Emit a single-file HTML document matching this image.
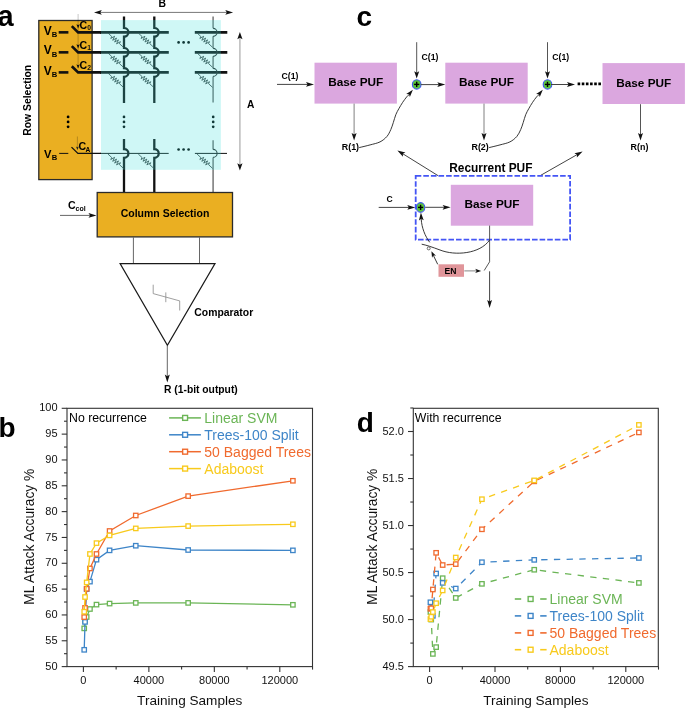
<!DOCTYPE html>
<html><head><meta charset="utf-8"><style>
html,body{margin:0;padding:0;background:#fff;}
svg{display:block;will-change:transform;}
text{font-family:"Liberation Sans", sans-serif;}
</style></head><body>
<svg width="685" height="708" viewBox="0 0 685 708">
<rect width="685" height="708" fill="#fff"/>
<text x="-2.5" y="26.4" font-size="29" font-weight="bold" fill="#000" text-anchor="start" >a</text>
<line x1="99" y1="12.4" x2="228" y2="12.4" stroke="#777" stroke-width="1" />
<polygon points="94,12.4 101.8,10.1 100.24,12.4 101.8,14.7" fill="#111"/>
<polygon points="233.1,12.4 225.3,14.7 226.86,12.4 225.3,10.1" fill="#111"/>
<text x="162.3" y="7.4" font-size="10.4" font-weight="bold" fill="#000" text-anchor="middle" >B</text>
<line x1="239.9" y1="37" x2="239.9" y2="165.5" stroke="#bbb" stroke-width="1.5" />
<polygon points="239.9,31.9 242.5,39.3 239.9,37.82 237.3,39.3" fill="#111"/>
<polygon points="239.9,170.6 237.3,163.2 239.9,164.68 242.5,163.2" fill="#111"/>
<text x="247" y="108" font-size="10.2" font-weight="bold" fill="#000" text-anchor="start" >A</text>
<rect x="38.8" y="20.5" width="53.3" height="159.1" fill="#EAAF22" stroke="#2a2a2a" stroke-width="1.3" />
<text x="31.5" y="100.3" font-size="10.4" font-weight="bold" fill="#000" text-anchor="middle" transform="rotate(-90 31.5 100.3)">Row Selection</text>
<line x1="78.1" y1="14" x2="78.1" y2="68" stroke="#000" stroke-width="1" stroke-opacity="0.22"/>
<line x1="77.4" y1="136.5" x2="77.4" y2="148" stroke="#000" stroke-width="1" stroke-opacity="0.22"/>
<text x="43.8" y="34.6" font-size="12" font-weight="bold" fill="#000" text-anchor="start" >V</text>
<text x="51.8" y="36.8" font-size="7.6" font-weight="bold" fill="#000" text-anchor="start" >B</text>
<line x1="58.7" y1="32.35" x2="68.4" y2="32.35" stroke="#111" stroke-width="2.6" />
<polyline points="71.8,26.15 78.1,32.35 101,32.35" fill="none" stroke="#111" stroke-width="2.6"/>
<polygon points="78.1,28.45 76.4,24.25 78.1,25.09 79.8,24.25" fill="#111"/>
<text x="79.6" y="28.75" font-size="10.6" font-weight="bold" fill="#000" text-anchor="start" >C</text>
<text x="87.2" y="30.25" font-size="6.8" font-weight="bold" fill="#111" text-anchor="start" >0</text>
<text x="43.8" y="53.6" font-size="12" font-weight="bold" fill="#000" text-anchor="start" >V</text>
<text x="51.8" y="56.6" font-size="7.6" font-weight="bold" fill="#000" text-anchor="start" >B</text>
<line x1="58.7" y1="52.35" x2="68.4" y2="52.35" stroke="#111" stroke-width="2.6" />
<polyline points="71.8,46.15 78.1,52.35 101,52.35" fill="none" stroke="#111" stroke-width="2.6"/>
<polygon points="78.1,48.45 76.4,44.25 78.1,45.09 79.8,44.25" fill="#111"/>
<text x="79.6" y="48.75" font-size="10.6" font-weight="bold" fill="#000" text-anchor="start" >C</text>
<text x="87.2" y="50.25" font-size="6.8" font-weight="bold" fill="#111" text-anchor="start" >1</text>
<text x="43.8" y="74.7" font-size="12" font-weight="bold" fill="#000" text-anchor="start" >V</text>
<text x="51.8" y="77.4" font-size="7.6" font-weight="bold" fill="#000" text-anchor="start" >B</text>
<line x1="58.7" y1="72.4" x2="68.4" y2="72.4" stroke="#111" stroke-width="2.6" />
<polyline points="71.8,66.2 78.1,72.4 101,72.4" fill="none" stroke="#111" stroke-width="2.6"/>
<polygon points="78.1,68.5 76.4,64.3 78.1,65.14 79.8,64.3" fill="#111"/>
<text x="79.6" y="68.8" font-size="10.6" font-weight="bold" fill="#000" text-anchor="start" >C</text>
<text x="87.2" y="70.3" font-size="6.8" font-weight="bold" fill="#111" text-anchor="start" >2</text>
<text x="43.9" y="157.5" font-size="11.2" font-weight="bold" fill="#000" text-anchor="start" >V</text>
<text x="51.8" y="160.3" font-size="7.6" font-weight="bold" fill="#000" text-anchor="start" >B</text>
<line x1="59.2" y1="153.4" x2="68.3" y2="153.4" stroke="#111" stroke-width="1" />
<polyline points="71.5,147.1 77.9,153.4 101,153.4" fill="none" stroke="#111" stroke-width="1.3"/>
<polygon points="77.4,150 76,146.5 77.4,147.2 78.8,146.5" fill="#222"/>
<text x="78.6" y="150.1" font-size="10.6" font-weight="bold" fill="#000" text-anchor="start" >C</text>
<text x="85.6" y="151.8" font-size="6.6" font-weight="bold" fill="#000" text-anchor="start" >A</text>
<circle cx="68.1" cy="116.9" r="1.4" fill="#000"/>
<circle cx="68.1" cy="121.9" r="1.4" fill="#000"/>
<circle cx="68.1" cy="126.8" r="1.4" fill="#000"/>
<line x1="100" y1="32.35" x2="168.8" y2="32.35" stroke="#111" stroke-width="2.7" />
<line x1="194.8" y1="32.35" x2="227.3" y2="32.35" stroke="#111" stroke-width="2.7" />
<line x1="100" y1="52.35" x2="168.8" y2="52.35" stroke="#111" stroke-width="2.7" />
<line x1="194.8" y1="52.35" x2="227.3" y2="52.35" stroke="#111" stroke-width="2.7" />
<line x1="100" y1="72.4" x2="168.8" y2="72.4" stroke="#111" stroke-width="2.7" />
<line x1="194.8" y1="72.4" x2="227.3" y2="72.4" stroke="#111" stroke-width="2.7" />
<line x1="100" y1="153.4" x2="168.7" y2="153.4" stroke="#111" stroke-width="1" />
<line x1="194.9" y1="153.4" x2="227" y2="153.4" stroke="#111" stroke-width="1" />
<path d="M124,16.4 L124,27.95 A4.4,4.4 0 0 1 124,36.75 L124,47.95 A4.4,4.4 0 0 1 124,56.75 L124,68 A4.4,4.4 0 0 1 124,76.8 L124,103" fill="none" stroke="#111" stroke-width="2.3"/>
<path d="M124,139.1 L124,149 A4.4,4.4 0 0 1 124,157.8 L124,192.5" fill="none" stroke="#111" stroke-width="2.3"/>
<path d="M154.3,16.4 L154.3,27.95 A4.4,4.4 0 0 1 154.3,36.75 L154.3,47.95 A4.4,4.4 0 0 1 154.3,56.75 L154.3,68 A4.4,4.4 0 0 1 154.3,76.8 L154.3,103" fill="none" stroke="#111" stroke-width="2.3"/>
<path d="M154.3,139.1 L154.3,149 A4.4,4.4 0 0 1 154.3,157.8 L154.3,192.5" fill="none" stroke="#111" stroke-width="2.3"/>
<line x1="213.1" y1="16.4" x2="213.1" y2="28.35" stroke="#767676" stroke-width="1.5" />
<line x1="213.1" y1="36.35" x2="213.1" y2="48.35" stroke="#767676" stroke-width="1.5" />
<line x1="213.1" y1="56.35" x2="213.1" y2="68.4" stroke="#767676" stroke-width="1.5" />
<line x1="213.1" y1="76.4" x2="213.1" y2="102.4" stroke="#767676" stroke-width="1.5" />
<path d="M213.1,28.35 A4,4 0 0 1 213.1,36.35" fill="none" stroke="#2a2a2a" stroke-width="1.1"/>
<path d="M213.1,48.35 A4,4 0 0 1 213.1,56.35" fill="none" stroke="#2a2a2a" stroke-width="1.1"/>
<path d="M213.1,68.4 A4,4 0 0 1 213.1,76.4" fill="none" stroke="#2a2a2a" stroke-width="1.1"/>
<line x1="213.1" y1="140.3" x2="213.1" y2="149.4" stroke="#767676" stroke-width="1.5" />
<line x1="213.1" y1="157.4" x2="213.1" y2="192.5" stroke="#767676" stroke-width="1.5" />
<path d="M213.1,149.4 A4,4 0 0 1 213.1,157.4" fill="none" stroke="#2a2a2a" stroke-width="1.1"/>
<polyline points="108,33.05 111.72,36.48 110.78,38.47 114.6,36.28 112.72,40.26 116.53,38.07 114.66,42.05 118.47,39.85 116.59,43.83 120.41,41.64 119.47,43.63 123.5,47.35" fill="none" stroke="#303838" stroke-width="0.85"/>
<polyline points="138.3,33.05 142.02,36.48 141.08,38.47 144.9,36.28 143.02,40.26 146.83,38.07 144.96,42.05 148.77,39.85 146.89,43.83 150.71,41.64 149.77,43.63 153.8,47.35" fill="none" stroke="#303838" stroke-width="0.85"/>
<polyline points="197.1,33.05 200.82,36.48 199.88,38.47 203.7,36.28 201.82,40.26 205.63,38.07 203.76,42.05 207.57,39.85 205.69,43.83 209.51,41.64 208.57,43.63 212.6,47.35" fill="none" stroke="#303838" stroke-width="0.85"/>
<polyline points="108,53.05 111.72,56.48 110.78,58.47 114.6,56.28 112.72,60.26 116.53,58.07 114.66,62.05 118.47,59.85 116.59,63.83 120.41,61.64 119.47,63.63 123.5,67.35" fill="none" stroke="#303838" stroke-width="0.85"/>
<polyline points="138.3,53.05 142.02,56.48 141.08,58.47 144.9,56.28 143.02,60.26 146.83,58.07 144.96,62.05 148.77,59.85 146.89,63.83 150.71,61.64 149.77,63.63 153.8,67.35" fill="none" stroke="#303838" stroke-width="0.85"/>
<polyline points="197.1,53.05 200.82,56.48 199.88,58.47 203.7,56.28 201.82,60.26 205.63,58.07 203.76,62.05 207.57,59.85 205.69,63.83 209.51,61.64 208.57,63.63 212.6,67.35" fill="none" stroke="#303838" stroke-width="0.85"/>
<polyline points="108,73.1 111.72,76.53 110.78,78.52 114.6,76.33 112.72,80.31 116.53,78.12 114.66,82.1 118.47,79.9 116.59,83.88 120.41,81.69 119.47,83.68 123.5,87.4" fill="none" stroke="#303838" stroke-width="0.85"/>
<polyline points="138.3,73.1 142.02,76.53 141.08,78.52 144.9,76.33 143.02,80.31 146.83,78.12 144.96,82.1 148.77,79.9 146.89,83.88 150.71,81.69 149.77,83.68 153.8,87.4" fill="none" stroke="#303838" stroke-width="0.85"/>
<polyline points="197.1,73.1 200.82,76.53 199.88,78.52 203.7,76.33 201.82,80.31 205.63,78.12 203.76,82.1 207.57,79.9 205.69,83.88 209.51,81.69 208.57,83.68 212.6,87.4" fill="none" stroke="#303838" stroke-width="0.85"/>
<polyline points="108,154.1 111.72,157.53 110.78,159.52 114.6,157.33 112.72,161.31 116.53,159.12 114.66,163.1 118.47,160.9 116.59,164.88 120.41,162.69 119.47,164.68 123.5,168.4" fill="none" stroke="#303838" stroke-width="0.85"/>
<polyline points="138.3,154.1 142.02,157.53 141.08,159.52 144.9,157.33 143.02,161.31 146.83,159.12 144.96,163.1 148.77,160.9 146.89,164.88 150.71,162.69 149.77,164.68 153.8,168.4" fill="none" stroke="#303838" stroke-width="0.85"/>
<polyline points="197.1,154.1 200.82,157.53 199.88,159.52 203.7,157.33 201.82,161.31 205.63,159.12 203.76,163.1 207.57,160.9 205.69,164.88 209.51,162.69 208.57,164.68 212.6,168.4" fill="none" stroke="#303838" stroke-width="0.85"/>
<circle cx="178.6" cy="42.4" r="1.35" fill="#000"/>
<circle cx="178.6" cy="149.5" r="1.35" fill="#000"/>
<circle cx="183.6" cy="42.4" r="1.35" fill="#000"/>
<circle cx="183.6" cy="149.5" r="1.35" fill="#000"/>
<circle cx="188.6" cy="42.4" r="1.35" fill="#000"/>
<circle cx="188.6" cy="149.5" r="1.35" fill="#000"/>
<circle cx="124.0" cy="116.9" r="1.35" fill="#000"/>
<circle cx="124.0" cy="121.9" r="1.35" fill="#000"/>
<circle cx="124.0" cy="126.8" r="1.35" fill="#000"/>
<circle cx="213.2" cy="116.9" r="1.35" fill="#000"/>
<circle cx="213.2" cy="121.9" r="1.35" fill="#000"/>
<circle cx="213.2" cy="126.8" r="1.35" fill="#000"/>
<rect x="101" y="20.1" width="119.9" height="149.7" fill="rgb(63,223,219)" stroke="none" stroke-width="1" fill-opacity="0.25"/>
<rect x="97.2" y="192.5" width="135.3" height="44.4" fill="#EAAF22" stroke="#2a2a2a" stroke-width="1.3" />
<text x="165" y="217.3" font-size="10.5" font-weight="bold" fill="#000" text-anchor="middle" >Column Selection</text>
<line x1="60" y1="215.4" x2="90.9" y2="215.4" stroke="#666" stroke-width="1" />
<polygon points="96.5,215.4 88.5,217.8 90.1,215.4 88.5,213" fill="#111"/>
<text x="67.9" y="209.4" font-size="10.6" font-weight="bold" fill="#000" text-anchor="start" >C</text>
<text x="75.6" y="211.1" font-size="7" font-weight="bold" fill="#000" text-anchor="start" >col</text>
<line x1="133.4" y1="237.3" x2="133.4" y2="263.6" stroke="#555" stroke-width="0.9" />
<line x1="199.5" y1="237.3" x2="199.5" y2="263.6" stroke="#555" stroke-width="0.9" />
<polygon points="120.1,263.6 215,263.6 167.4,345.3" fill="#fff" stroke="#1a1a1a" stroke-width="1.2" stroke-linejoin="miter"/>
<polyline points="153.2,284.7 153.2,293.6 179.7,300.9 179.7,310.5" fill="none" stroke="#888" stroke-width="0.8"/>
<line x1="165.8" y1="292.4" x2="165.8" y2="302.2" stroke="#888" stroke-width="0.8" />
<text x="194.3" y="316.1" font-size="10.4" font-weight="bold" fill="#000" text-anchor="start" >Comparator</text>
<line x1="167.3" y1="345.5" x2="167.3" y2="376.8" stroke="#555" stroke-width="0.9" />
<polygon points="167.3,382.4 164.8,374.4 167.3,376.16 169.8,374.4" fill="#111"/>
<text x="164" y="393" font-size="10.3" font-weight="bold" fill="#000" text-anchor="start" >R (1-bit output)</text>
<text x="356.4" y="26.3" font-size="28" font-weight="bold" fill="#000" text-anchor="start" >c</text>
<rect x="314.5" y="62.7" width="82.4" height="40.9" fill="#DBA7DF" stroke="none" stroke-width="1" />
<text x="355.7" y="86.2" font-size="11.8" font-weight="bold" fill="#000" text-anchor="middle" >Base PUF</text>
<rect x="445.3" y="62.7" width="82.4" height="40.9" fill="#DBA7DF" stroke="none" stroke-width="1" />
<text x="486.5" y="86.2" font-size="11.8" font-weight="bold" fill="#000" text-anchor="middle" >Base PUF</text>
<rect x="602.5" y="63.1" width="82.4" height="40.9" fill="#DBA7DF" stroke="none" stroke-width="1" />
<text x="643.7" y="86.6" font-size="11.8" font-weight="bold" fill="#000" text-anchor="middle" >Base PUF</text>
<rect x="450.8" y="184.8" width="82.4" height="40.9" fill="#DBA7DF" stroke="none" stroke-width="1" />
<text x="492" y="208.3" font-size="11.8" font-weight="bold" fill="#000" text-anchor="middle" >Base PUF</text>
<line x1="277" y1="84.4" x2="308.4" y2="84.4" stroke="#444" stroke-width="1" />
<polygon points="314,84.4 306,86.8 307.6,84.4 306,82" fill="#111"/>
<text x="281.6" y="79.4" font-size="8.7" font-weight="bold" fill="#000" text-anchor="start" >C(1)</text>
<line x1="354.1" y1="103.6" x2="354.1" y2="135.15" stroke="#808080" stroke-width="1" />
<polygon points="354.1,140.4 351.6,132.9 354.1,134.4 356.6,132.9" fill="#111"/>
<text x="341.8" y="150.3" font-size="8.9" font-weight="bold" fill="#000" text-anchor="start" >R(1)</text>
<ellipse cx="416.7" cy="84.4" rx="4.3" ry="4.7" fill="#5BC63C" stroke="#3f55f2" stroke-width="1.1"/>
<line x1="414.1" y1="84.4" x2="419.3" y2="84.4" stroke="#000" stroke-width="1.4" />
<line x1="416.7" y1="81.8" x2="416.7" y2="87" stroke="#000" stroke-width="1.4" />
<line x1="416.7" y1="42.2" x2="416.7" y2="73.42" stroke="#555" stroke-width="1" />
<polygon points="416.7,78.6 414.2,71.2 416.7,72.68 419.2,71.2" fill="#111"/>
<text x="421.5" y="60.4" font-size="8.7" font-weight="bold" fill="#000" text-anchor="start" >C(1)</text>
<path d="M359.2,147.6 C361.02,147.15 366.63,145.85 370.1,144.9 C373.57,143.95 377.2,143.3 380,141.9 C382.8,140.5 385.1,138.55 386.9,136.5 C388.7,134.45 389.73,131.92 390.8,129.6 C391.87,127.28 392.47,125.08 393.3,122.6 C394.13,120.12 394.88,117 395.8,114.7 C396.72,112.4 397.65,110.87 398.8,108.8 C399.95,106.73 401.38,104.28 402.7,102.3 C404.02,100.32 405.6,98.23 406.7,96.9 C407.8,95.57 408.87,94.73 409.3,94.3" fill="none" stroke="#222" stroke-width="0.9"/>
<polygon points="412.9,89.8 409.85,97.06 409,94.36 406.2,93.94" fill="#111"/>
<line x1="484" y1="103.6" x2="484" y2="135.15" stroke="#808080" stroke-width="1" />
<polygon points="484,140.4 481.5,132.9 484,134.4 486.5,132.9" fill="#111"/>
<text x="471.5" y="150.3" font-size="8.9" font-weight="bold" fill="#000" text-anchor="start" >R(2)</text>
<ellipse cx="547.5" cy="84.4" rx="4.3" ry="4.7" fill="#5BC63C" stroke="#3f55f2" stroke-width="1.1"/>
<line x1="544.9" y1="84.4" x2="550.1" y2="84.4" stroke="#000" stroke-width="1.4" />
<line x1="547.5" y1="81.8" x2="547.5" y2="87" stroke="#000" stroke-width="1.4" />
<line x1="547.5" y1="42.2" x2="547.5" y2="73.42" stroke="#555" stroke-width="1" />
<polygon points="547.5,78.6 545,71.2 547.5,72.68 550,71.2" fill="#111"/>
<text x="552.3" y="60.4" font-size="8.7" font-weight="bold" fill="#000" text-anchor="start" >C(1)</text>
<path d="M489.1,147.6 C490.92,147.15 496.53,145.85 500,144.9 C503.47,143.95 507.1,143.3 509.9,141.9 C512.7,140.5 515,138.55 516.8,136.5 C518.6,134.45 519.63,131.92 520.7,129.6 C521.77,127.28 522.37,125.08 523.2,122.6 C524.03,120.12 524.78,117 525.7,114.7 C526.62,112.4 527.55,110.87 528.7,108.8 C529.85,106.73 531.28,104.28 532.6,102.3 C533.92,100.32 535.5,98.23 536.6,96.9 C537.7,95.57 538.77,94.73 539.2,94.3" fill="none" stroke="#222" stroke-width="0.9"/>
<polygon points="542.8,89.8 539.75,97.06 538.9,94.36 536.1,93.94" fill="#111"/>
<line x1="421" y1="84.6" x2="439.7" y2="84.6" stroke="#444" stroke-width="1" />
<polygon points="445.3,84.6 437.3,87 438.9,84.6 437.3,82.2" fill="#111"/>
<line x1="551" y1="84.5" x2="569.4" y2="84.5" stroke="#444" stroke-width="1" />
<polygon points="575,84.5 567,86.9 568.6,84.5 567,82.1" fill="#111"/>
<line x1="577.6" y1="83.8" x2="601.5" y2="83.8" stroke="#000" stroke-width="2.8" stroke-dasharray="2.6 1.55"/>
<line x1="640.5" y1="104.2" x2="640.5" y2="135.35" stroke="#555" stroke-width="1" />
<polygon points="640.5,140.6 638,133.1 640.5,134.6 643,133.1" fill="#111"/>
<text x="630.6" y="149.8" font-size="8.9" font-weight="bold" fill="#000" text-anchor="start" >R(n)</text>
<text x="449.2" y="171.7" font-size="11.9" font-weight="bold" fill="#000" text-anchor="start" >Recurrent PUF</text>
<line x1="438.1" y1="175.7" x2="402.16" y2="153.36" stroke="#444" stroke-width="1" />
<polygon points="397.4,150.4 405.46,152.59 402.84,153.78 402.93,156.66" fill="#111"/>
<line x1="540.6" y1="175.4" x2="577.73" y2="154.27" stroke="#444" stroke-width="1" />
<polygon points="582.6,151.5 576.83,157.54 577.04,154.67 574.46,153.37" fill="#111"/>
<rect x="415.7" y="175.8" width="154.4" height="63.9" fill="none" stroke="#4455f5" stroke-width="1.8" stroke-dasharray="5.6 2"/>
<ellipse cx="420.6" cy="207.4" rx="4.2" ry="4.8" fill="#5BC63C" stroke="#3f55f2" stroke-width="1.1"/>
<line x1="418" y1="207.4" x2="423.2" y2="207.4" stroke="#000" stroke-width="1.4" />
<line x1="420.6" y1="204.8" x2="420.6" y2="210" stroke="#000" stroke-width="1.4" />
<line x1="378.7" y1="207.4" x2="409.7" y2="207.4" stroke="#444" stroke-width="1" />
<polygon points="415.3,207.4 407.3,209.8 408.9,207.4 407.3,205" fill="#111"/>
<text x="386.6" y="202.1" font-size="8.6" font-weight="bold" fill="#000" text-anchor="start" >C</text>
<line x1="425.2" y1="207.3" x2="445" y2="207.3" stroke="#444" stroke-width="1" />
<polygon points="450.6,207.3 442.6,209.7 444.2,207.3 442.6,204.9" fill="#111"/>
<line x1="489.6" y1="225.6" x2="489.6" y2="261.8" stroke="#444" stroke-width="0.9" />
<line x1="489.6" y1="261.8" x2="484.2" y2="270.5" stroke="#444" stroke-width="0.9" />
<line x1="489.6" y1="271.3" x2="489.6" y2="302.3" stroke="#444" stroke-width="1" />
<polygon points="489.6,307.9 487.2,299.9 489.6,301.5 492,299.9" fill="#111"/>
<path d="M489.6,240 C480,254 455,256 440,250 C432,247 426,245 421.7,244.2" fill="none" stroke="#222" stroke-width="0.9"/>
<path d="M429.7,242.3 C425,236 421.8,228 421.2,219" fill="none" stroke="#222" stroke-width="0.9"/>
<polygon points="420.9,212.4 423.7,220.27 421.22,218.79 418.9,220.51" fill="#111"/>
<circle cx="428.7" cy="248.4" r="1.5" fill="#fff" stroke="#333" stroke-width="0.7"/>
<line x1="437.7" y1="264.3" x2="433.23" y2="255.08" stroke="#222" stroke-width="0.9" />
<polygon points="431.4,251.3 436,255.74 433.36,255.35 432.04,257.66" fill="#111"/>
<rect x="438.5" y="264.3" width="25.5" height="12.5" fill="#E0959A" stroke="none" stroke-width="1" />
<text x="450.6" y="274.4" font-size="8.6" font-weight="bold" fill="#000" text-anchor="middle" >EN</text>
<line x1="464.3" y1="270.9" x2="477" y2="270.9" stroke="#777" stroke-width="0.9" />
<polygon points="481.2,270.9 475.2,273.1 476.7,270.9 475.2,268.7" fill="#111"/>
<text x="-1.4" y="437.3" font-size="28" font-weight="bold" fill="#000" text-anchor="start" >b</text>
<rect x="67" y="408.3" width="245.5" height="258.3" fill="none" stroke="#333" stroke-width="1.1"/>
<line x1="61.7" y1="666.6" x2="67" y2="666.6" stroke="#333" stroke-width="1.1" />
<line x1="61.7" y1="640.77" x2="67" y2="640.77" stroke="#333" stroke-width="1.1" />
<line x1="61.7" y1="614.94" x2="67" y2="614.94" stroke="#333" stroke-width="1.1" />
<line x1="61.7" y1="589.11" x2="67" y2="589.11" stroke="#333" stroke-width="1.1" />
<line x1="61.7" y1="563.28" x2="67" y2="563.28" stroke="#333" stroke-width="1.1" />
<line x1="61.7" y1="537.45" x2="67" y2="537.45" stroke="#333" stroke-width="1.1" />
<line x1="61.7" y1="511.62" x2="67" y2="511.62" stroke="#333" stroke-width="1.1" />
<line x1="61.7" y1="485.79" x2="67" y2="485.79" stroke="#333" stroke-width="1.1" />
<line x1="61.7" y1="459.96" x2="67" y2="459.96" stroke="#333" stroke-width="1.1" />
<line x1="61.7" y1="434.13" x2="67" y2="434.13" stroke="#333" stroke-width="1.1" />
<line x1="61.7" y1="408.3" x2="67" y2="408.3" stroke="#333" stroke-width="1.1" />
<line x1="64" y1="653.69" x2="67" y2="653.69" stroke="#333" stroke-width="1.1" />
<line x1="64" y1="627.86" x2="67" y2="627.86" stroke="#333" stroke-width="1.1" />
<line x1="64" y1="602.02" x2="67" y2="602.02" stroke="#333" stroke-width="1.1" />
<line x1="64" y1="576.2" x2="67" y2="576.2" stroke="#333" stroke-width="1.1" />
<line x1="64" y1="550.37" x2="67" y2="550.37" stroke="#333" stroke-width="1.1" />
<line x1="64" y1="524.54" x2="67" y2="524.54" stroke="#333" stroke-width="1.1" />
<line x1="64" y1="498.71" x2="67" y2="498.71" stroke="#333" stroke-width="1.1" />
<line x1="64" y1="472.88" x2="67" y2="472.88" stroke="#333" stroke-width="1.1" />
<line x1="64" y1="447.05" x2="67" y2="447.05" stroke="#333" stroke-width="1.1" />
<line x1="64" y1="421.22" x2="67" y2="421.22" stroke="#333" stroke-width="1.1" />
<text x="57.6" y="669.7" font-size="11" font-weight="normal" fill="#111" text-anchor="end" >50</text>
<text x="57.6" y="643.87" font-size="11" font-weight="normal" fill="#111" text-anchor="end" >55</text>
<text x="57.6" y="618.04" font-size="11" font-weight="normal" fill="#111" text-anchor="end" >60</text>
<text x="57.6" y="592.21" font-size="11" font-weight="normal" fill="#111" text-anchor="end" >65</text>
<text x="57.6" y="566.38" font-size="11" font-weight="normal" fill="#111" text-anchor="end" >70</text>
<text x="57.6" y="540.55" font-size="11" font-weight="normal" fill="#111" text-anchor="end" >75</text>
<text x="57.6" y="514.72" font-size="11" font-weight="normal" fill="#111" text-anchor="end" >80</text>
<text x="57.6" y="488.89" font-size="11" font-weight="normal" fill="#111" text-anchor="end" >85</text>
<text x="57.6" y="463.06" font-size="11" font-weight="normal" fill="#111" text-anchor="end" >90</text>
<text x="57.6" y="437.23" font-size="11" font-weight="normal" fill="#111" text-anchor="end" >95</text>
<text x="57.6" y="411.4" font-size="11" font-weight="normal" fill="#111" text-anchor="end" >100</text>
<line x1="83.4" y1="666.6" x2="83.4" y2="671.9" stroke="#333" stroke-width="1.1" />
<text x="83.4" y="683.9" font-size="11" font-weight="normal" fill="#111" text-anchor="middle" >0</text>
<line x1="148.87" y1="666.6" x2="148.87" y2="671.9" stroke="#333" stroke-width="1.1" />
<text x="148.87" y="683.9" font-size="11" font-weight="normal" fill="#111" text-anchor="middle" >40000</text>
<line x1="214.33" y1="666.6" x2="214.33" y2="671.9" stroke="#333" stroke-width="1.1" />
<text x="214.33" y="683.9" font-size="11" font-weight="normal" fill="#111" text-anchor="middle" >80000</text>
<line x1="279.8" y1="666.6" x2="279.8" y2="671.9" stroke="#333" stroke-width="1.1" />
<text x="279.8" y="683.9" font-size="11" font-weight="normal" fill="#111" text-anchor="middle" >120000</text>
<line x1="116.13" y1="666.6" x2="116.13" y2="669.6" stroke="#333" stroke-width="1.1" />
<line x1="181.6" y1="666.6" x2="181.6" y2="669.6" stroke="#333" stroke-width="1.1" />
<line x1="247.07" y1="666.6" x2="247.07" y2="669.6" stroke="#333" stroke-width="1.1" />
<line x1="312.53" y1="666.6" x2="312.53" y2="669.6" stroke="#333" stroke-width="1.1" />
<text x="189.75" y="704.6" font-size="13.6" font-weight="normal" fill="#111" text-anchor="middle" >Training Samples</text>
<text x="33.8" y="536.7" font-size="13.8" font-weight="normal" fill="#111" text-anchor="middle" transform="rotate(-90 33.8 536.7)">ML Attack Accuracy %</text>
<text x="69" y="421.8" font-size="12.3" font-weight="normal" fill="#000" text-anchor="start" >No recurrence</text>
<polyline points="84.22,628.37 85.04,620.62 86.67,617.01 89.95,609 96.49,604.61 109.59,603.57 135.77,602.9 188.15,602.9 292.89,604.81" fill="none" stroke="#6BB556" stroke-width="1.3" />
<rect x="82.02" y="626.17" width="4.4" height="4.4" fill="#fff" stroke="#6BB556" stroke-width="1.3"/>
<rect x="82.84" y="618.42" width="4.4" height="4.4" fill="#fff" stroke="#6BB556" stroke-width="1.3"/>
<rect x="84.47" y="614.81" width="4.4" height="4.4" fill="#fff" stroke="#6BB556" stroke-width="1.3"/>
<rect x="87.75" y="606.8" width="4.4" height="4.4" fill="#fff" stroke="#6BB556" stroke-width="1.3"/>
<rect x="94.29" y="602.41" width="4.4" height="4.4" fill="#fff" stroke="#6BB556" stroke-width="1.3"/>
<rect x="107.39" y="601.37" width="4.4" height="4.4" fill="#fff" stroke="#6BB556" stroke-width="1.3"/>
<rect x="133.57" y="600.7" width="4.4" height="4.4" fill="#fff" stroke="#6BB556" stroke-width="1.3"/>
<rect x="185.95" y="600.7" width="4.4" height="4.4" fill="#fff" stroke="#6BB556" stroke-width="1.3"/>
<rect x="290.69" y="602.61" width="4.4" height="4.4" fill="#fff" stroke="#6BB556" stroke-width="1.3"/>
<polyline points="84.22,649.81 85.04,621.91 86.67,589.11 89.95,581.62 96.49,559.66 109.59,550.37 135.77,545.72 188.15,550 292.89,550.37" fill="none" stroke="#3E85C8" stroke-width="1.3" />
<rect x="82.02" y="647.61" width="4.4" height="4.4" fill="#fff" stroke="#3E85C8" stroke-width="1.3"/>
<rect x="82.84" y="619.71" width="4.4" height="4.4" fill="#fff" stroke="#3E85C8" stroke-width="1.3"/>
<rect x="84.47" y="586.91" width="4.4" height="4.4" fill="#fff" stroke="#3E85C8" stroke-width="1.3"/>
<rect x="87.75" y="579.42" width="4.4" height="4.4" fill="#fff" stroke="#3E85C8" stroke-width="1.3"/>
<rect x="94.29" y="557.46" width="4.4" height="4.4" fill="#fff" stroke="#3E85C8" stroke-width="1.3"/>
<rect x="107.39" y="548.16" width="4.4" height="4.4" fill="#fff" stroke="#3E85C8" stroke-width="1.3"/>
<rect x="133.57" y="543.52" width="4.4" height="4.4" fill="#fff" stroke="#3E85C8" stroke-width="1.3"/>
<rect x="185.95" y="547.8" width="4.4" height="4.4" fill="#fff" stroke="#3E85C8" stroke-width="1.3"/>
<rect x="290.69" y="548.16" width="4.4" height="4.4" fill="#fff" stroke="#3E85C8" stroke-width="1.3"/>
<polyline points="84.22,617.11 85.04,607.91 86.67,588.8 89.95,568.45 96.49,553.98 109.59,530.99 135.77,515.49 188.15,496.12 292.89,480.78" fill="none" stroke="#F06A2E" stroke-width="1.3" />
<rect x="82.02" y="614.91" width="4.4" height="4.4" fill="#fff" stroke="#F06A2E" stroke-width="1.3"/>
<rect x="82.84" y="605.71" width="4.4" height="4.4" fill="#fff" stroke="#F06A2E" stroke-width="1.3"/>
<rect x="84.47" y="586.6" width="4.4" height="4.4" fill="#fff" stroke="#F06A2E" stroke-width="1.3"/>
<rect x="87.75" y="566.25" width="4.4" height="4.4" fill="#fff" stroke="#F06A2E" stroke-width="1.3"/>
<rect x="94.29" y="551.78" width="4.4" height="4.4" fill="#fff" stroke="#F06A2E" stroke-width="1.3"/>
<rect x="107.39" y="528.79" width="4.4" height="4.4" fill="#fff" stroke="#F06A2E" stroke-width="1.3"/>
<rect x="133.57" y="513.29" width="4.4" height="4.4" fill="#fff" stroke="#F06A2E" stroke-width="1.3"/>
<rect x="185.95" y="493.92" width="4.4" height="4.4" fill="#fff" stroke="#F06A2E" stroke-width="1.3"/>
<rect x="290.69" y="478.58" width="4.4" height="4.4" fill="#fff" stroke="#F06A2E" stroke-width="1.3"/>
<polyline points="84.22,611.74 85.04,597.01 86.67,582.39 89.95,553.98 96.49,543.13 109.59,535.38 135.77,528.41 188.15,526.08 292.89,524.28" fill="none" stroke="#F8CA1C" stroke-width="1.3" />
<rect x="82.02" y="609.54" width="4.4" height="4.4" fill="#fff" stroke="#F8CA1C" stroke-width="1.3"/>
<rect x="82.84" y="594.81" width="4.4" height="4.4" fill="#fff" stroke="#F8CA1C" stroke-width="1.3"/>
<rect x="84.47" y="580.19" width="4.4" height="4.4" fill="#fff" stroke="#F8CA1C" stroke-width="1.3"/>
<rect x="87.75" y="551.78" width="4.4" height="4.4" fill="#fff" stroke="#F8CA1C" stroke-width="1.3"/>
<rect x="94.29" y="540.93" width="4.4" height="4.4" fill="#fff" stroke="#F8CA1C" stroke-width="1.3"/>
<rect x="107.39" y="533.18" width="4.4" height="4.4" fill="#fff" stroke="#F8CA1C" stroke-width="1.3"/>
<rect x="133.57" y="526.21" width="4.4" height="4.4" fill="#fff" stroke="#F8CA1C" stroke-width="1.3"/>
<rect x="185.95" y="523.88" width="4.4" height="4.4" fill="#fff" stroke="#F8CA1C" stroke-width="1.3"/>
<rect x="290.69" y="522.08" width="4.4" height="4.4" fill="#fff" stroke="#F8CA1C" stroke-width="1.3"/>
<line x1="169.1" y1="417.9" x2="200.9" y2="417.9" stroke="#6BB556" stroke-width="1.5" />
<rect x="182.65" y="415.45" width="4.9" height="4.9" fill="#fff" stroke="#6BB556" stroke-width="1.4"/>
<text x="204.3" y="422.8" font-size="14" font-weight="normal" fill="#6BB556" text-anchor="start" >Linear SVM</text>
<line x1="169.1" y1="434.8" x2="200.9" y2="434.8" stroke="#3E85C8" stroke-width="1.5" />
<rect x="182.65" y="432.35" width="4.9" height="4.9" fill="#fff" stroke="#3E85C8" stroke-width="1.4"/>
<text x="204.3" y="439.7" font-size="14" font-weight="normal" fill="#3E85C8" text-anchor="start" >Trees-100 Split</text>
<line x1="169.1" y1="451.7" x2="200.9" y2="451.7" stroke="#F06A2E" stroke-width="1.5" />
<rect x="182.65" y="449.25" width="4.9" height="4.9" fill="#fff" stroke="#F06A2E" stroke-width="1.4"/>
<text x="204.3" y="456.6" font-size="14" font-weight="normal" fill="#F06A2E" text-anchor="start" >50 Bagged Trees</text>
<line x1="169.1" y1="468.6" x2="200.9" y2="468.6" stroke="#F8CA1C" stroke-width="1.5" />
<rect x="182.65" y="466.15" width="4.9" height="4.9" fill="#fff" stroke="#F8CA1C" stroke-width="1.4"/>
<text x="204.3" y="473.5" font-size="14" font-weight="normal" fill="#F8CA1C" text-anchor="start" >Adaboost</text>
<text x="356.8" y="432.1" font-size="28" font-weight="bold" fill="#000" text-anchor="start" >d</text>
<rect x="413.3" y="408.3" width="245" height="258.3" fill="none" stroke="#333" stroke-width="1.1"/>
<line x1="408" y1="666.6" x2="413.3" y2="666.6" stroke="#333" stroke-width="1.1" />
<line x1="408" y1="619.58" x2="413.3" y2="619.58" stroke="#333" stroke-width="1.1" />
<line x1="408" y1="572.56" x2="413.3" y2="572.56" stroke="#333" stroke-width="1.1" />
<line x1="408" y1="525.54" x2="413.3" y2="525.54" stroke="#333" stroke-width="1.1" />
<line x1="408" y1="478.52" x2="413.3" y2="478.52" stroke="#333" stroke-width="1.1" />
<line x1="408" y1="431.5" x2="413.3" y2="431.5" stroke="#333" stroke-width="1.1" />
<line x1="410.3" y1="643.09" x2="413.3" y2="643.09" stroke="#333" stroke-width="1.1" />
<line x1="410.3" y1="596.07" x2="413.3" y2="596.07" stroke="#333" stroke-width="1.1" />
<line x1="410.3" y1="549.05" x2="413.3" y2="549.05" stroke="#333" stroke-width="1.1" />
<line x1="410.3" y1="502.03" x2="413.3" y2="502.03" stroke="#333" stroke-width="1.1" />
<line x1="410.3" y1="455.01" x2="413.3" y2="455.01" stroke="#333" stroke-width="1.1" />
<line x1="410.3" y1="407.99" x2="413.3" y2="407.99" stroke="#333" stroke-width="1.1" />
<text x="403.9" y="669.7" font-size="11" font-weight="normal" fill="#111" text-anchor="end" >49.5</text>
<text x="403.9" y="622.68" font-size="11" font-weight="normal" fill="#111" text-anchor="end" >50.0</text>
<text x="403.9" y="575.66" font-size="11" font-weight="normal" fill="#111" text-anchor="end" >50.5</text>
<text x="403.9" y="528.64" font-size="11" font-weight="normal" fill="#111" text-anchor="end" >51.0</text>
<text x="403.9" y="481.62" font-size="11" font-weight="normal" fill="#111" text-anchor="end" >51.5</text>
<text x="403.9" y="434.6" font-size="11" font-weight="normal" fill="#111" text-anchor="end" >52.0</text>
<line x1="429.6" y1="666.6" x2="429.6" y2="671.9" stroke="#333" stroke-width="1.1" />
<text x="429.6" y="683.9" font-size="11" font-weight="normal" fill="#111" text-anchor="middle" >0</text>
<line x1="495" y1="666.6" x2="495" y2="671.9" stroke="#333" stroke-width="1.1" />
<text x="495" y="683.9" font-size="11" font-weight="normal" fill="#111" text-anchor="middle" >40000</text>
<line x1="560.4" y1="666.6" x2="560.4" y2="671.9" stroke="#333" stroke-width="1.1" />
<text x="560.4" y="683.9" font-size="11" font-weight="normal" fill="#111" text-anchor="middle" >80000</text>
<line x1="625.8" y1="666.6" x2="625.8" y2="671.9" stroke="#333" stroke-width="1.1" />
<text x="625.8" y="683.9" font-size="11" font-weight="normal" fill="#111" text-anchor="middle" >120000</text>
<line x1="462.3" y1="666.6" x2="462.3" y2="669.6" stroke="#333" stroke-width="1.1" />
<line x1="527.7" y1="666.6" x2="527.7" y2="669.6" stroke="#333" stroke-width="1.1" />
<line x1="593.1" y1="666.6" x2="593.1" y2="669.6" stroke="#333" stroke-width="1.1" />
<line x1="658.5" y1="666.6" x2="658.5" y2="669.6" stroke="#333" stroke-width="1.1" />
<text x="535.8" y="704.6" font-size="13.6" font-weight="normal" fill="#111" text-anchor="middle" >Training Samples</text>
<text x="376.7" y="536.7" font-size="13.8" font-weight="normal" fill="#111" text-anchor="middle" transform="rotate(-90 376.7 536.7)">ML Attack Accuracy %</text>
<text x="414.8" y="421.8" font-size="12.3" font-weight="normal" fill="#000" text-anchor="start" >With recurrence</text>
<polyline points="430.42,612.06 431.24,619.58 432.87,653.9 436.14,647.13 442.68,578.2 455.76,597.95 481.92,583.84 534.24,569.74 638.88,582.9" fill="none" stroke="#6BB556" stroke-width="1.3" stroke-dasharray="6.35 6.35" stroke-dashoffset="9.41"/>
<rect x="428.22" y="609.86" width="4.4" height="4.4" fill="#fff" stroke="#6BB556" stroke-width="1.3"/>
<rect x="429.04" y="617.38" width="4.4" height="4.4" fill="#fff" stroke="#6BB556" stroke-width="1.3"/>
<rect x="430.67" y="651.7" width="4.4" height="4.4" fill="#fff" stroke="#6BB556" stroke-width="1.3"/>
<rect x="433.94" y="644.93" width="4.4" height="4.4" fill="#fff" stroke="#6BB556" stroke-width="1.3"/>
<rect x="440.48" y="576" width="4.4" height="4.4" fill="#fff" stroke="#6BB556" stroke-width="1.3"/>
<rect x="453.56" y="595.75" width="4.4" height="4.4" fill="#fff" stroke="#6BB556" stroke-width="1.3"/>
<rect x="479.72" y="581.64" width="4.4" height="4.4" fill="#fff" stroke="#6BB556" stroke-width="1.3"/>
<rect x="532.04" y="567.54" width="4.4" height="4.4" fill="#fff" stroke="#6BB556" stroke-width="1.3"/>
<rect x="636.68" y="580.7" width="4.4" height="4.4" fill="#fff" stroke="#6BB556" stroke-width="1.3"/>
<polyline points="430.42,602.28 431.24,608.3 432.87,615.82 436.14,573.5 442.68,582.9 455.76,588.55 481.92,562.22 534.24,559.86 638.88,557.98" fill="none" stroke="#3E85C8" stroke-width="1.3" stroke-dasharray="6.35 6.35" stroke-dashoffset="12.13"/>
<rect x="428.22" y="600.08" width="4.4" height="4.4" fill="#fff" stroke="#3E85C8" stroke-width="1.3"/>
<rect x="429.04" y="606.1" width="4.4" height="4.4" fill="#fff" stroke="#3E85C8" stroke-width="1.3"/>
<rect x="430.67" y="613.62" width="4.4" height="4.4" fill="#fff" stroke="#3E85C8" stroke-width="1.3"/>
<rect x="433.94" y="571.3" width="4.4" height="4.4" fill="#fff" stroke="#3E85C8" stroke-width="1.3"/>
<rect x="440.48" y="580.7" width="4.4" height="4.4" fill="#fff" stroke="#3E85C8" stroke-width="1.3"/>
<rect x="453.56" y="586.35" width="4.4" height="4.4" fill="#fff" stroke="#3E85C8" stroke-width="1.3"/>
<rect x="479.72" y="560.02" width="4.4" height="4.4" fill="#fff" stroke="#3E85C8" stroke-width="1.3"/>
<rect x="532.04" y="557.66" width="4.4" height="4.4" fill="#fff" stroke="#3E85C8" stroke-width="1.3"/>
<rect x="636.68" y="555.78" width="4.4" height="4.4" fill="#fff" stroke="#3E85C8" stroke-width="1.3"/>
<polyline points="430.42,608.77 431.24,608.3 432.87,589.49 436.14,552.81 442.68,565.04 455.76,564.1 481.92,529.3 534.24,481.34 638.88,432.44" fill="none" stroke="#F06A2E" stroke-width="1.3" stroke-dasharray="6.35 6.35" stroke-dashoffset="1.71"/>
<rect x="428.22" y="606.57" width="4.4" height="4.4" fill="#fff" stroke="#F06A2E" stroke-width="1.3"/>
<rect x="429.04" y="606.1" width="4.4" height="4.4" fill="#fff" stroke="#F06A2E" stroke-width="1.3"/>
<rect x="430.67" y="587.29" width="4.4" height="4.4" fill="#fff" stroke="#F06A2E" stroke-width="1.3"/>
<rect x="433.94" y="550.61" width="4.4" height="4.4" fill="#fff" stroke="#F06A2E" stroke-width="1.3"/>
<rect x="440.48" y="562.84" width="4.4" height="4.4" fill="#fff" stroke="#F06A2E" stroke-width="1.3"/>
<rect x="453.56" y="561.9" width="4.4" height="4.4" fill="#fff" stroke="#F06A2E" stroke-width="1.3"/>
<rect x="479.72" y="527.1" width="4.4" height="4.4" fill="#fff" stroke="#F06A2E" stroke-width="1.3"/>
<rect x="532.04" y="479.14" width="4.4" height="4.4" fill="#fff" stroke="#F06A2E" stroke-width="1.3"/>
<rect x="636.68" y="430.24" width="4.4" height="4.4" fill="#fff" stroke="#F06A2E" stroke-width="1.3"/>
<polyline points="430.42,619.11 431.24,616.76 432.87,612.06 436.14,603.22 442.68,590.43 455.76,557.51 481.92,499.21 534.24,480.4 638.88,424.92" fill="none" stroke="#F8CA1C" stroke-width="1.3" stroke-dasharray="6.35 6.35" stroke-dashoffset="1.45"/>
<rect x="428.22" y="616.91" width="4.4" height="4.4" fill="#fff" stroke="#F8CA1C" stroke-width="1.3"/>
<rect x="429.04" y="614.56" width="4.4" height="4.4" fill="#fff" stroke="#F8CA1C" stroke-width="1.3"/>
<rect x="430.67" y="609.86" width="4.4" height="4.4" fill="#fff" stroke="#F8CA1C" stroke-width="1.3"/>
<rect x="433.94" y="601.02" width="4.4" height="4.4" fill="#fff" stroke="#F8CA1C" stroke-width="1.3"/>
<rect x="440.48" y="588.23" width="4.4" height="4.4" fill="#fff" stroke="#F8CA1C" stroke-width="1.3"/>
<rect x="453.56" y="555.31" width="4.4" height="4.4" fill="#fff" stroke="#F8CA1C" stroke-width="1.3"/>
<rect x="479.72" y="497.01" width="4.4" height="4.4" fill="#fff" stroke="#F8CA1C" stroke-width="1.3"/>
<rect x="532.04" y="478.2" width="4.4" height="4.4" fill="#fff" stroke="#F8CA1C" stroke-width="1.3"/>
<rect x="636.68" y="422.72" width="4.4" height="4.4" fill="#fff" stroke="#F8CA1C" stroke-width="1.3"/>
<line x1="514.8" y1="599" x2="521.2" y2="599" stroke="#6BB556" stroke-width="1.6" />
<line x1="540.2" y1="599" x2="546.6" y2="599" stroke="#6BB556" stroke-width="1.6" />
<rect x="528.15" y="596.55" width="4.9" height="4.9" fill="#fff" stroke="#6BB556" stroke-width="1.4"/>
<text x="549.5" y="603.9" font-size="14" font-weight="normal" fill="#6BB556" text-anchor="start" >Linear SVM</text>
<line x1="514.8" y1="615.9" x2="521.2" y2="615.9" stroke="#3E85C8" stroke-width="1.6" />
<line x1="540.2" y1="615.9" x2="546.6" y2="615.9" stroke="#3E85C8" stroke-width="1.6" />
<rect x="528.15" y="613.45" width="4.9" height="4.9" fill="#fff" stroke="#3E85C8" stroke-width="1.4"/>
<text x="549.5" y="620.8" font-size="14" font-weight="normal" fill="#3E85C8" text-anchor="start" >Trees-100 Split</text>
<line x1="514.8" y1="632.9" x2="521.2" y2="632.9" stroke="#F06A2E" stroke-width="1.6" />
<line x1="540.2" y1="632.9" x2="546.6" y2="632.9" stroke="#F06A2E" stroke-width="1.6" />
<rect x="528.15" y="630.45" width="4.9" height="4.9" fill="#fff" stroke="#F06A2E" stroke-width="1.4"/>
<text x="549.5" y="637.8" font-size="14" font-weight="normal" fill="#F06A2E" text-anchor="start" >50 Bagged Trees</text>
<line x1="514.8" y1="649.7" x2="521.2" y2="649.7" stroke="#F8CA1C" stroke-width="1.6" />
<line x1="540.2" y1="649.7" x2="546.6" y2="649.7" stroke="#F8CA1C" stroke-width="1.6" />
<rect x="528.15" y="647.25" width="4.9" height="4.9" fill="#fff" stroke="#F8CA1C" stroke-width="1.4"/>
<text x="549.5" y="654.6" font-size="14" font-weight="normal" fill="#F8CA1C" text-anchor="start" >Adaboost</text>
</svg>
</body></html>
